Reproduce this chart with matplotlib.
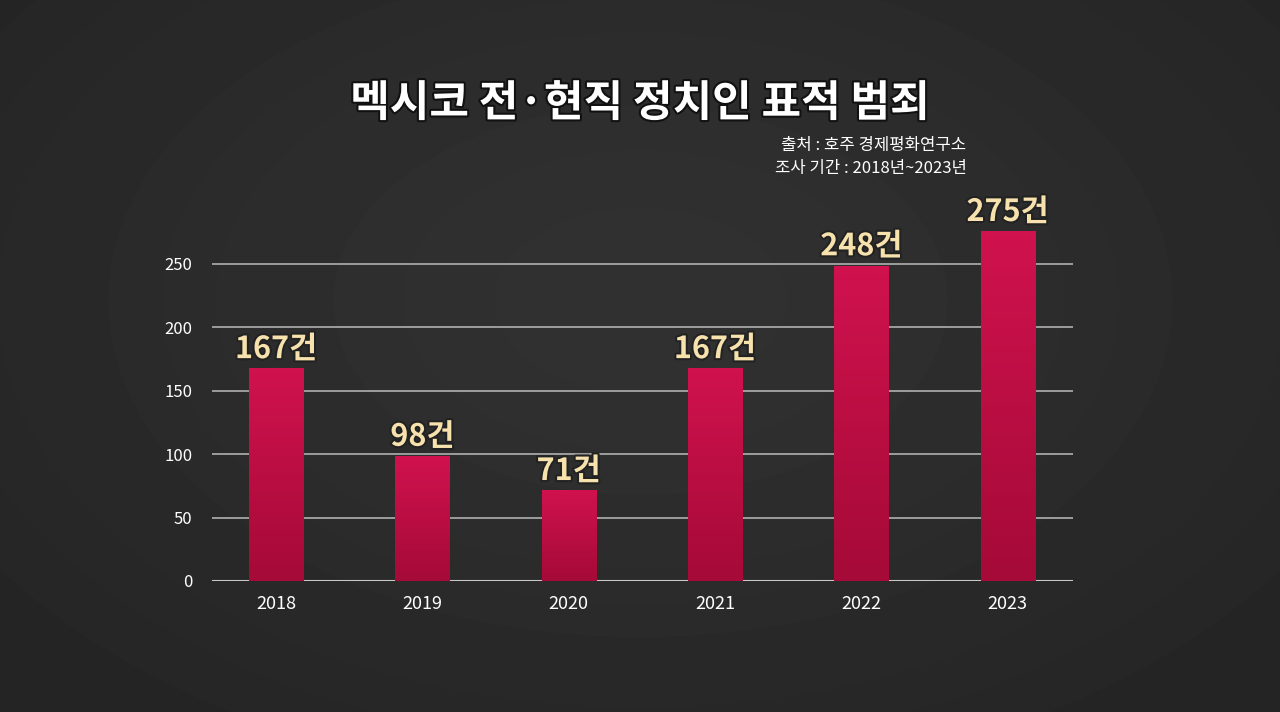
import matplotlib
matplotlib.use("Agg")
import matplotlib.pyplot as plt
import matplotlib.patheffects as pe
import numpy as np
from matplotlib.colors import LinearSegmentedColormap

years = ["2018", "2019", "2020", "2021", "2022", "2023"]
values = [167, 98, 71, 167, 248, 275]
yticks = [0, 50, 100, 150, 200, 250]

plt.rcParams['font.family'] = ['Noto Sans CJK KR', 'DejaVu Sans']
fig = plt.figure(figsize=(12.8, 7.12), dpi=100)
bg = fig.add_axes([0, 0, 1, 1]); bg.axis('off')
yy, xx = np.mgrid[0:712, 0:1280]
shade = 0.13 + 0.06*np.exp(-((xx-640)**2/500000 + (yy-300)**2/200000))
bg.imshow(shade, cmap='gray', vmin=0, vmax=1, extent=[0, 1, 0, 1], aspect='auto')
bg.set_xlim(0, 1); bg.set_ylim(0, 1)

ax = fig.add_axes([0.1656, 0.184, 0.673, 0.535])
ax.patch.set_alpha(0)
x = np.arange(len(years))
ax.set_xlim(-0.438, 5.45); ax.set_ylim(0, 300)
for s in ax.spines.values(): s.set_visible(False)
for t in yticks[1:]:
    ax.axhline(t, color='#b0b0b0', lw=1.2, zorder=1)
ax.axhline(0, color='#c8c8c8', lw=1.5, zorder=1)
grad = np.linspace(0, 1, 100).reshape(-1, 1)
cm = LinearSegmentedColormap.from_list('g', ['#d0124e', '#a50a38'])
for xi, v in zip(x, values):
    ax.imshow(grad, cmap=cm, extent=[xi-0.185, xi+0.185, 0, v], origin='upper', aspect='auto', zorder=2)
    ax.text(xi, v+3, f"{v}건", ha='center', va='bottom', fontsize=22, fontweight='black',
            color='#f7e2ad', zorder=3,
            path_effects=[pe.withStroke(linewidth=3, foreground='#222222')])
ax.set_xticks(x); ax.set_xticklabels(years, fontsize=13, color='white')
ax.set_yticks(yticks); ax.set_yticklabels([str(t) for t in yticks], fontsize=12, color='white')
ax.tick_params(length=0, pad=10)
ax.tick_params(axis='y', pad=14)

fig.text(0.5, 0.855, "멕시코 전·현직 정치인 표적 범죄", ha='center', va='center',
         fontsize=31, fontweight='black', color='white',
         path_effects=[pe.withStroke(linewidth=3, foreground='#111111')])
fig.text(0.755, 0.795, "출처 : 호주 경제평화연구소", ha='right', va='center', fontsize=12, color='white')
fig.text(0.755, 0.763, "조사 기간 : 2018년~2023년", ha='right', va='center', fontsize=12, color='white')
fig.savefig("out.png", dpi=100)
